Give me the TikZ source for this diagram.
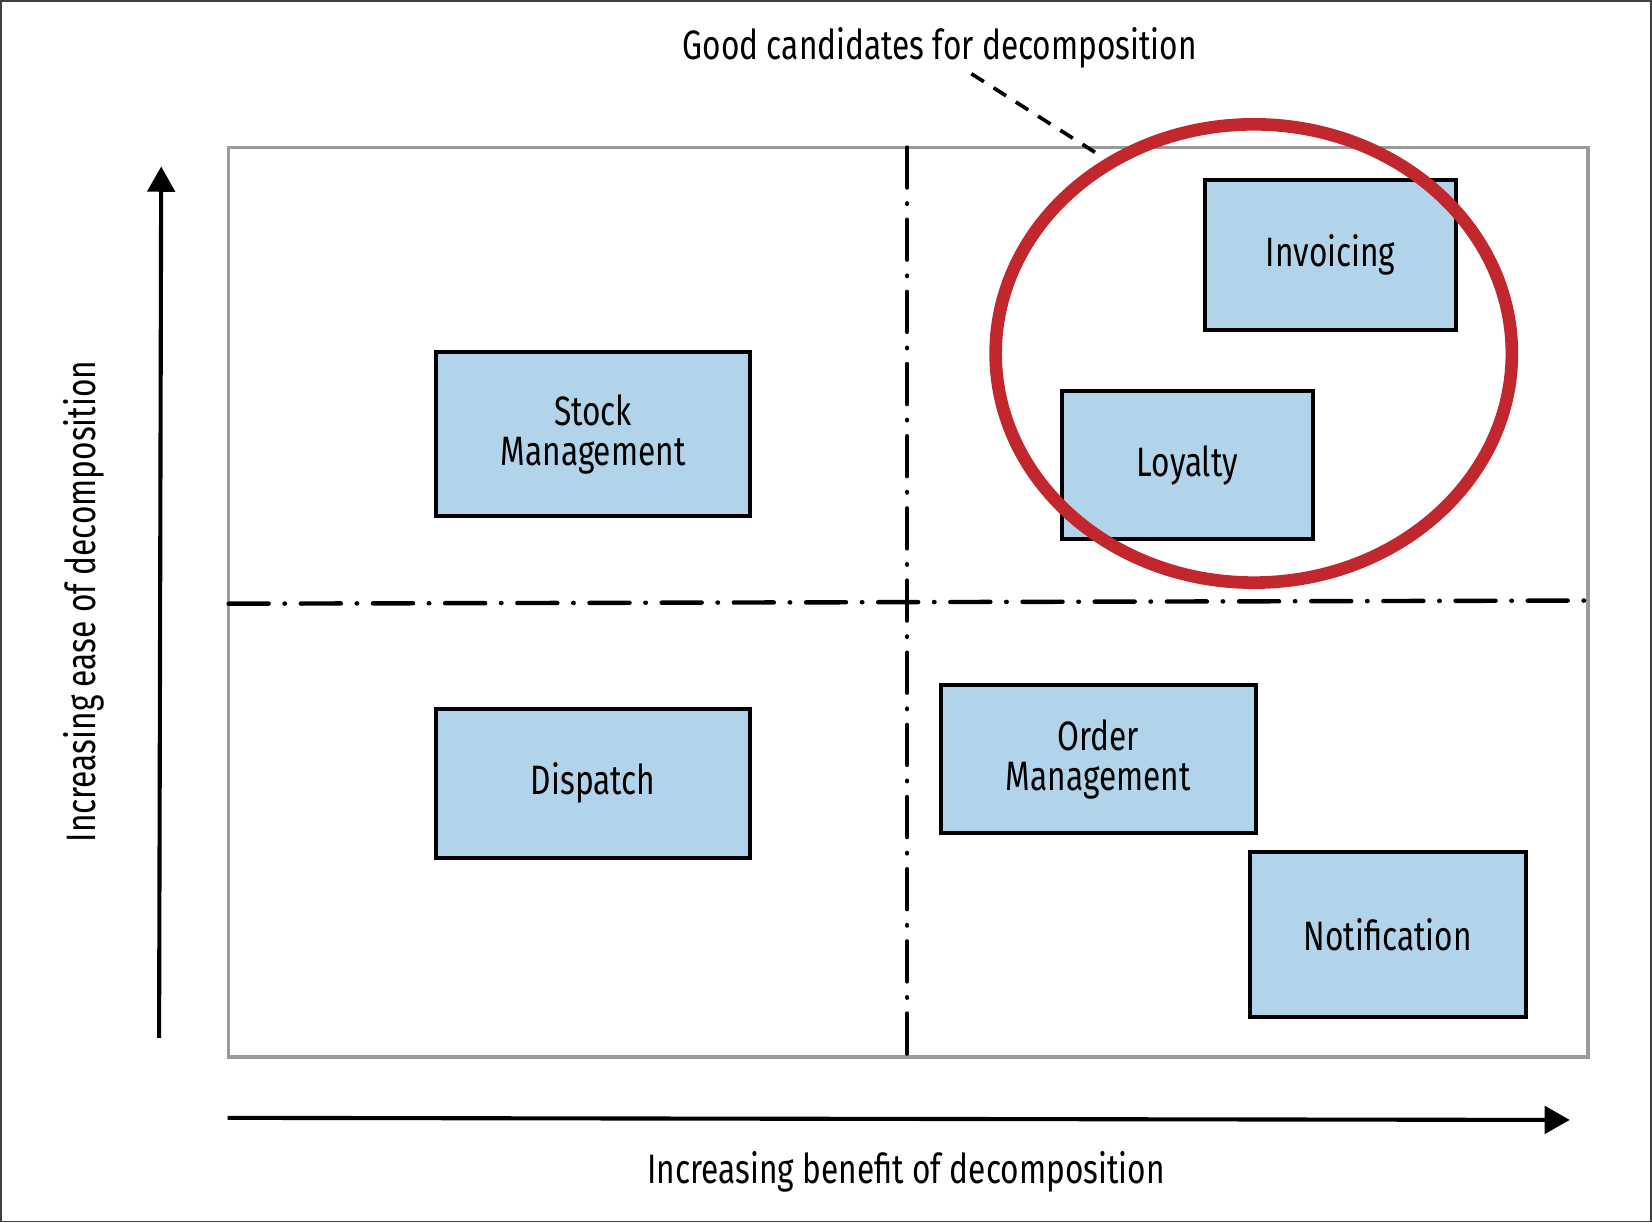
\documentclass[tikz,border=0pt]{standalone}
\usepackage{fontspec}
\setmainfont{Fira Sans}[FakeStretch=0.77]
\usetikzlibrary{arrows.meta,shapes.geometric}
\definecolor{boxblue}{HTML}{B2D4EA}
\definecolor{ringred}{HTML}{C1272D}
\definecolor{framegray}{HTML}{9A9A9A}
\begin{document}
\begin{tikzpicture}[x=1pt,y=-1pt,
  blockbox/.style={draw=black,line width=3.8pt,fill=boxblue,inner sep=0pt,align=center,
    font=\fontsize{39}{38}\selectfont},
  divline/.style={line width=4.2pt,line cap=round,dash pattern=on 38pt off 15pt on 0.5pt off 15pt},
  axisarrow/.style={line width=3.9pt,-{Triangle[width=26pt,length=24pt]}},
  labeltext/.style={font=\fontsize{39}{40}\selectfont,inner sep=0pt}]
\useasboundingbox (0,0) rectangle (1568,1160);
\draw[line width=1.5pt,draw=black!75] (0.75,0.75) rectangle (1567.25,1159.25);
% quadrant frame
\draw[framegray,line width=3.5pt] (217,140) rectangle (1507,1003);
\coordinate (vtop) at (861,140);
\coordinate (vbot) at (861,1003);
\coordinate (hleft) at (217,573);
\coordinate (hright) at (1507,570);
\draw[divline] (vtop) -- (vbot);
\draw[divline] (hleft) -- (hright);
% boxes
\node[blockbox,minimum width=238pt,minimum height=142pt] (inv) at (1263,242) {Invoicing};
\node[blockbox,minimum width=238pt,minimum height=141pt] (loy) at (1127,441.5) {Loyalty};
\node[blockbox,minimum width=298pt,minimum height=156pt] (stock) at (563,412) {Stock\\Management};
\node[blockbox,minimum width=298pt,minimum height=141pt] (disp) at (563,743.5) {Dispatch};
\node[blockbox,minimum width=299pt,minimum height=141pt] (order) at (1042.5,720.5) {Order\\Management};
\node[blockbox,minimum width=262pt,minimum height=156pt] (notif) at (1317,887) {Notification};
% ring
\node[draw=ringred,line width=12pt,ellipse,minimum width=490pt,minimum height=435pt,inner sep=0pt] (ring) at (1190,335.5) {};
% axes
\coordinate (ybot) at (151,985);
\coordinate (ytop) at (153,158);
\coordinate (xleft) at (216,1061);
\coordinate (xright) at (1490,1063);
\draw[axisarrow] (ybot) -- (ytop);
\draw[axisarrow] (xleft) -- (xright);
% labels
\node[labeltext] (title) at (892,45) {Good candidates for decomposition};
\node[labeltext] (xlab) at (860,1112) {Increasing benefit of decomposition};
\node[labeltext,rotate=90] (ylab) at (80,571) {Increasing ease of decomposition};
\coordinate (leadA) at (922,70);
\coordinate (leadB) at (1040,145);
\draw[line width=3.5pt,dash pattern=on 14pt off 11pt] (leadA) -- (leadB);
\end{tikzpicture}
\end{document}
